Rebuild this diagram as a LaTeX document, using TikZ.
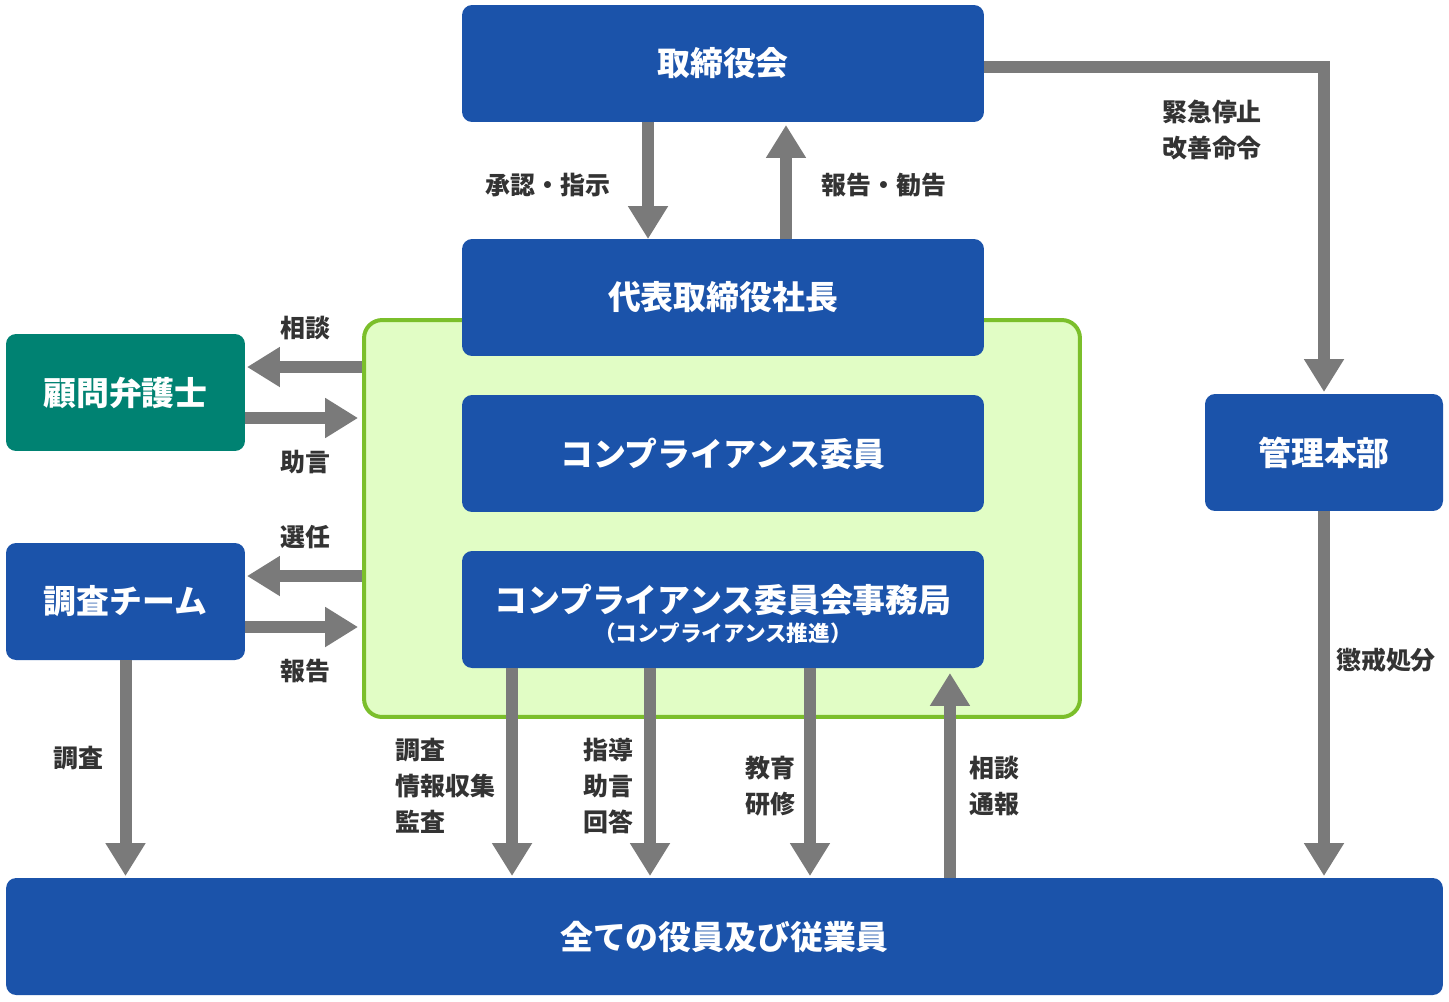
\documentclass[tikz,border=0pt]{standalone}
\usepackage{fontspec}
\newfontfamily\jp{Noto Sans CJK JP}
\usetikzlibrary{arrows.meta}
\definecolor{boxblue}{HTML}{1B53AA}
\definecolor{boxteal}{HTML}{008272}
\definecolor{panelfill}{HTML}{E1FDC5}
\definecolor{panelline}{HTML}{7BBF2B}
\definecolor{arrgray}{HTML}{7A7A7A}
\definecolor{txtgray}{HTML}{333333}

\begin{document}
\begin{tikzpicture}[x=0.02cm,y=-0.02cm]
    \tikzstyle{box}=[fill=boxblue,rounded corners=0.2cm,text=white,inner sep=0pt,outer sep=0pt,
      font=\jp\bfseries\fontsize{18.7pt}{22pt}\selectfont,minimum width=10.44cm,minimum height=2.34cm,align=center];
    \tikzstyle{side}=[box,minimum width=4.78cm];
    \tikzstyle{panel}=[draw=panelline,fill=panelfill,line width=0.08cm,rounded corners=0.36cm,
      minimum width=14.32cm,minimum height=7.94cm];
    \tikzstyle{arr}=[draw=arrgray,line width=0.24cm,-{Triangle[length=0.66cm,width=0.76cm]}];
    \tikzstyle{lbl}=[text=txtgray,inner sep=0pt,align=center,
      font=\jp\bfseries\fontsize{14.2pt}{20.4pt}\selectfont];

    \useasboundingbox (0,0) rectangle (1449,1001);

    \node (panel) [panel] at (722,518.5) {};

    \node (bd) [box] at (723,63.5) {取締役会}; \node (ceo) [box] at
    (723,297.5) {代表取締役社長}; \node (comp) [box] at (723,453.5)
    {コンプライアンス委員}; \node (off) [box] at (723,609.5)
    {\rule{0pt}{21pt}コンプライアンス委員会事務局\\[-5.3pt]{\fontsize{12.3pt}{14pt}\selectfont （コンプライアンス推進）}};

    \node (adv) [side,fill=boxteal] at (125.5,392.5) {顧問弁護士}; \node
    (team) [side] at (125.5,601.5) {調査チーム}; \node (hq) [side,minimum
    width=4.76cm] at (1324,452.5) {管理本部}; \node (all) [box,minimum
    width=28.74cm] at (724.5,936.5) {全ての役員及び従業員};

    \draw[arr] ([xshift=-1.5cm]bd.south) -- ([xshift=-1.5cm]ceo.north);
    \draw[arr] ([xshift=1.26cm]ceo.north) -- ([xshift=1.26cm,yshift=-0.06cm]bd.south);
    \draw[arr] ([yshift=-0.07cm]bd.east) -| ([yshift=0.04cm]hq.north);
    \draw[arr] (hq.south) -- ([yshift=0.04cm]hq.south |- all.north);

    \draw[arr] ([yshift=0.51cm]adv.east -| panel.west) -- ([xshift=0.04cm,yshift=0.51cm]adv.east);
    \draw[arr] ([yshift=-0.51cm]adv.east) -- ([xshift=-0.08cm,yshift=-0.51cm]adv.east -| panel.west);
    \draw[arr] ([yshift=0.51cm]team.east -| panel.west) -- ([xshift=0.04cm,yshift=0.51cm]team.east);
    \draw[arr] ([yshift=-0.51cm]team.east) -- ([xshift=-0.08cm,yshift=-0.51cm]team.east -| panel.west);
    \draw[arr] (team.south) -- ([yshift=0.04cm]team.south |- all.north);

    \draw[arr] ([xshift=-4.22cm]off.south) -- ([xshift=-4.22cm,yshift=0.04cm]off.south |- all.north);
    \draw[arr] ([xshift=-1.46cm]off.south) -- ([xshift=-1.46cm,yshift=0.04cm]off.south |- all.north);
    \draw[arr] ([xshift=1.74cm]off.south) -- ([xshift=1.74cm,yshift=0.04cm]off.south |- all.north);
    \draw[arr] ([xshift=4.54cm]all.north -| off.south) -- ([xshift=4.54cm,yshift=-0.1cm]off.south);

    \node (l1) [lbl] at (548,185) {承認・指示}; \node (l2) [lbl] at
    (884,185) {報告・勧告}; \node (l3) [lbl] at (1212,130)
    {緊急停止\\改善命令}; \node (l4) [lbl] at (1386,660) {懲戒処分};

    \node (l5) [lbl] at (305,328) {相談}; \node (l6) [lbl] at (305,462)
    {助言}; \node (l7) [lbl] at (305,537) {選任}; \node (l8) [lbl] at
    (305,671) {報告}; \node (l9) [lbl] at (78,758) {調査};

    \node (l10) [lbl,anchor=west,align=left] at (395,786)
    {調査\\情報収集\\監査}; \node (l11) [lbl] at (608,786)
    {指導\\助言\\回答}; \node (l12) [lbl] at (770,786) {教育\\研修};
    \node (l13) [lbl] at (994,786) {相談\\通報};
\end{tikzpicture}
\end{document}
